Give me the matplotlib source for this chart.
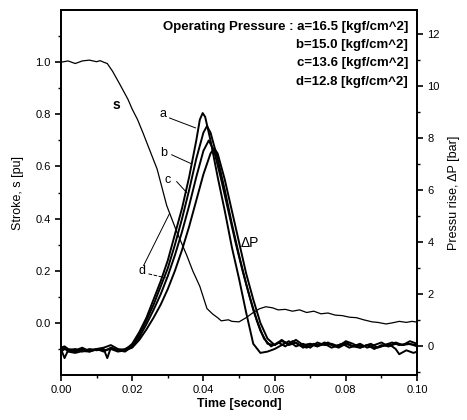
import matplotlib
matplotlib.use("Agg")
import matplotlib.pyplot as plt

plt.rcParams['font.family'] = ['Liberation Sans', 'DejaVu Sans']

# stroke (left axis, pu)
stroke_t = [0.000, 0.002, 0.004, 0.005, 0.006, 0.008, 0.010, 0.011, 0.012, 0.013,
            0.0145, 0.0165, 0.0188, 0.020, 0.0215, 0.023, 0.025, 0.027, 0.0297, 0.0325,
            0.0353, 0.037, 0.039, 0.041, 0.0426, 0.044, 0.045, 0.047, 0.048, 0.050,
            0.052, 0.054, 0.0557, 0.0575, 0.0594, 0.061, 0.063, 0.065, 0.067, 0.069,
            0.071, 0.073, 0.075, 0.077, 0.079, 0.081, 0.083, 0.085, 0.0874, 0.089,
            0.0913, 0.093, 0.095, 0.097, 0.0986, 0.100]
stroke_s = [1.000, 1.005, 0.995, 1.000, 1.005, 1.008, 1.002, 1.006, 1.000, 0.995,
            0.965, 0.916, 0.858, 0.820, 0.780, 0.730, 0.660, 0.590, 0.450, 0.350,
            0.260, 0.200, 0.140, 0.055, 0.034, 0.020, 0.008, 0.012, 0.006, 0.004,
            0.020, 0.040, 0.054, 0.062, 0.058, 0.050, 0.052, 0.045, 0.050, 0.040,
            0.045, 0.035, 0.038, 0.030, 0.028, 0.022, 0.020, 0.012, 0.004, 0.002,
            -0.004, 0.000, 0.006, 0.002, 0.006, 0.003]

# pressure rise (right axis, bar)
a_t = [0.000, 0.001, 0.002, 0.004, 0.006, 0.008, 0.010, 0.012, 0.014, 0.016,
       0.018, 0.020, 0.022, 0.024, 0.026, 0.028, 0.030, 0.032, 0.034, 0.036,
       0.038, 0.039, 0.0398, 0.0405, 0.042, 0.044, 0.046, 0.048, 0.050, 0.052,
       0.054, 0.056, 0.058, 0.060, 0.062, 0.064, 0.066, 0.068, 0.070, 0.072,
       0.074, 0.076, 0.078, 0.080, 0.082, 0.084, 0.086, 0.088, 0.090, 0.092,
       0.094, 0.096, 0.098, 0.100]
a_p = [-0.15, -0.05, -0.20, -0.25, -0.18, -0.20, -0.12, -0.15, -0.10, -0.20,
       -0.15, 0.10, 0.55, 1.10, 1.80, 2.50, 3.30, 4.30, 5.30, 6.50,
       7.90, 8.70, 8.95, 8.80, 7.90, 6.50, 5.20, 3.80, 2.60, 1.30,
       0.10, -0.25, -0.20, -0.10, 0.05, 0.20, 0.00, 0.10, -0.05, 0.15,
       0.05, 0.10, 0.00, 0.20, 0.10, -0.05, 0.05, -0.10, 0.05, 0.00,
       0.15, 0.05, 0.10, 0.00]

b_t = [0.000, 0.001, 0.002, 0.004, 0.006, 0.008, 0.010, 0.012, 0.014, 0.016,
       0.018, 0.020, 0.022, 0.024, 0.026, 0.028, 0.030, 0.032, 0.034, 0.036,
       0.038, 0.040, 0.041, 0.042, 0.044, 0.046, 0.048, 0.050, 0.052, 0.054,
       0.056, 0.058, 0.060, 0.062, 0.064, 0.066, 0.068, 0.070, 0.072, 0.074,
       0.076, 0.078, 0.080, 0.082, 0.084, 0.086, 0.088, 0.090, 0.092, 0.094,
       0.096, 0.098, 0.100]
b_p = [-0.20, -0.10, -0.15, -0.20, -0.10, -0.15, -0.10, -0.20, -0.05, -0.15,
       -0.10, 0.05, 0.45, 1.00, 1.60, 2.30, 3.00, 3.90, 4.90, 6.00,
       7.20, 8.20, 8.45, 8.20, 7.20, 6.00, 4.70, 3.50, 2.40, 1.40,
       0.60, 0.10, 0.05, 0.20, 0.10, 0.25, 0.05, 0.10, 0.00, 0.15,
       0.05, -0.05, 0.10, 0.00, 0.10, -0.05, 0.05, 0.15, 0.00, 0.10,
       0.05, 0.20, 0.10]

c_t = [0.000, 0.001, 0.002, 0.004, 0.006, 0.008, 0.010, 0.012, 0.013, 0.014,
       0.016, 0.018, 0.020, 0.022, 0.024, 0.026, 0.028, 0.030, 0.032, 0.034,
       0.036, 0.038, 0.040, 0.0415, 0.043, 0.045, 0.047, 0.049, 0.051, 0.053,
       0.055, 0.057, 0.059, 0.061, 0.063, 0.065, 0.067, 0.069, 0.071, 0.073,
       0.075, 0.077, 0.079, 0.081, 0.083, 0.085, 0.087, 0.089, 0.091, 0.093,
       0.095, 0.097, 0.100]
c_p = [-0.10, -0.45, -0.15, -0.10, -0.20, -0.10, -0.15, -0.10, -0.45, -0.05,
       -0.15, -0.20, 0.00, 0.35, 0.85, 1.40, 2.00, 2.70, 3.50, 4.40,
       5.40, 6.50, 7.50, 7.90, 7.50, 6.40, 5.20, 4.00, 2.90, 1.90,
       1.00, 0.30, 0.00, 0.15, 0.00, 0.20, 0.05, -0.05, 0.10, 0.05,
       0.15, 0.00, 0.10, -0.05, 0.05, 0.00, 0.10, -0.05, 0.05, 0.15,
       0.05, 0.10, 0.05]

d_t = [0.000, 0.001, 0.002, 0.004, 0.006, 0.008, 0.010, 0.012, 0.014, 0.016,
       0.018, 0.020, 0.022, 0.024, 0.026, 0.028, 0.030, 0.032, 0.034, 0.036,
       0.038, 0.040, 0.042, 0.043, 0.044, 0.046, 0.048, 0.050, 0.052, 0.054,
       0.056, 0.058, 0.060, 0.062, 0.064, 0.066, 0.068, 0.070, 0.072, 0.074,
       0.076, 0.078, 0.080, 0.082, 0.084, 0.086, 0.088, 0.090, 0.092, 0.094,
       0.095, 0.097, 0.099, 0.100]
d_p = [-0.05, 0.00, -0.10, -0.15, -0.05, -0.20, -0.10, -0.05, 0.05, -0.10,
       -0.15, -0.05, 0.25, 0.65, 1.10, 1.60, 2.20, 2.90, 3.70, 4.60,
       5.60, 6.60, 7.40, 7.60, 7.40, 6.40, 5.20, 4.00, 2.80, 1.80,
       0.90, 0.30, 0.05, 0.25, 0.05, 0.15, -0.05, 0.10, 0.00, 0.10,
       -0.05, 0.05, 0.15, 0.00, -0.05, 0.05, -0.05, 0.00, 0.10, -0.10,
       -0.30, -0.15, -0.25, -0.20]

legend_lines = ["Operating Pressure : a=16.5 [kgf/cm^2]",
                "b=15.0 [kgf/cm^2]",
                "c=13.6 [kgf/cm^2]",
                "d=12.8 [kgf/cm^2]"]

fig = plt.figure(figsize=(4.67, 4.2), dpi=100)
ax = fig.add_axes([0.1306, 0.107, 0.7624, 0.869])
ax2 = ax.twinx()

ax.plot(stroke_t, stroke_s, color="black", lw=0.9)
for tt, pp in [(d_t, d_p), (c_t, c_p), (b_t, b_p), (a_t, a_p)]:
    ax2.plot(tt, pp, color="black", lw=1.4)

ax.set_xlim(0, 0.1)
ax.set_ylim(-0.2, 1.2)
ax2.set_ylim(-1.1, 12.9)

ax.set_xticks([0.00, 0.02, 0.04, 0.06, 0.08, 0.10])
ax.set_xticklabels(["0.00", "0.02", "0.04", "0.06", "0.08", "0.10"])
ax.set_xticks([0.01, 0.03, 0.05, 0.07, 0.09], minor=True)
ax.set_yticks([0.0, 0.2, 0.4, 0.6, 0.8, 1.0])
ax.set_yticklabels(["0.0", "0.2", "0.4", "0.6", "0.8", "1.0"])
ax.set_yticks([-0.1, 0.1, 0.3, 0.5, 0.7, 0.9, 1.1], minor=True)
ax2.set_yticks([0, 2, 4, 6, 8, 10, 12])
ax2.set_yticks([-1, 1, 3, 5, 7, 9, 11], minor=True)

for a_ in (ax, ax2):
    a_.tick_params(which="major", direction="out", length=4, width=1.2, labelsize=8)
    a_.tick_params(which="minor", direction="out", length=2.5, width=1.0)
    for sp in a_.spines.values():
        sp.set_linewidth(1.3)

ax.set_xlabel("Time [second]", fontsize=9, fontweight="bold", labelpad=2)
ax.set_ylabel("Stroke, s [pu]", fontsize=9, labelpad=8)
ax2.set_ylabel("Pressu rise, ΔP [bar]", fontsize=9, rotation=90, labelpad=6)

# pressure legend text
y0 = 0.955
for i, line in enumerate(legend_lines):
    ax.text(0.975, y0 - i * 0.0505, line, transform=ax.transAxes, ha="right",
            va="center", fontsize=9.5, fontweight="bold")

# curve labels with leader lines (right-axis data)
ax2.text(0.0286, 8.9, "a", ha="center", va="center", fontsize=9)
ax2.plot([0.0305, 0.0378], [8.76, 8.38], color="black", lw=0.7)
ax2.text(0.0289, 7.43, "b", ha="center", va="center", fontsize=9)
ax2.plot([0.0311, 0.0367], [7.35, 7.00], color="black", lw=0.7)
ax2.text(0.0300, 6.4, "c", ha="center", va="center", fontsize=9)
ax2.plot([0.0325, 0.0353], [6.32, 5.9], color="black", lw=0.7)
ax2.text(0.0227, 2.9, "d", ha="center", va="center", fontsize=9)
ax2.plot([0.0246, 0.0294], [2.78, 2.63], color="black", lw=0.7, ls="--")
ax.plot([0.0232, 0.0305], [0.22, 0.42], color="black", lw=0.7)
ax.text(0.0157, 0.835, "s", ha="center", va="center", fontsize=10, fontweight="bold")
ax2.text(0.0505, 3.96, "ΔP", ha="left", va="center", fontsize=10)

fig.savefig("out.png", dpi=100)
